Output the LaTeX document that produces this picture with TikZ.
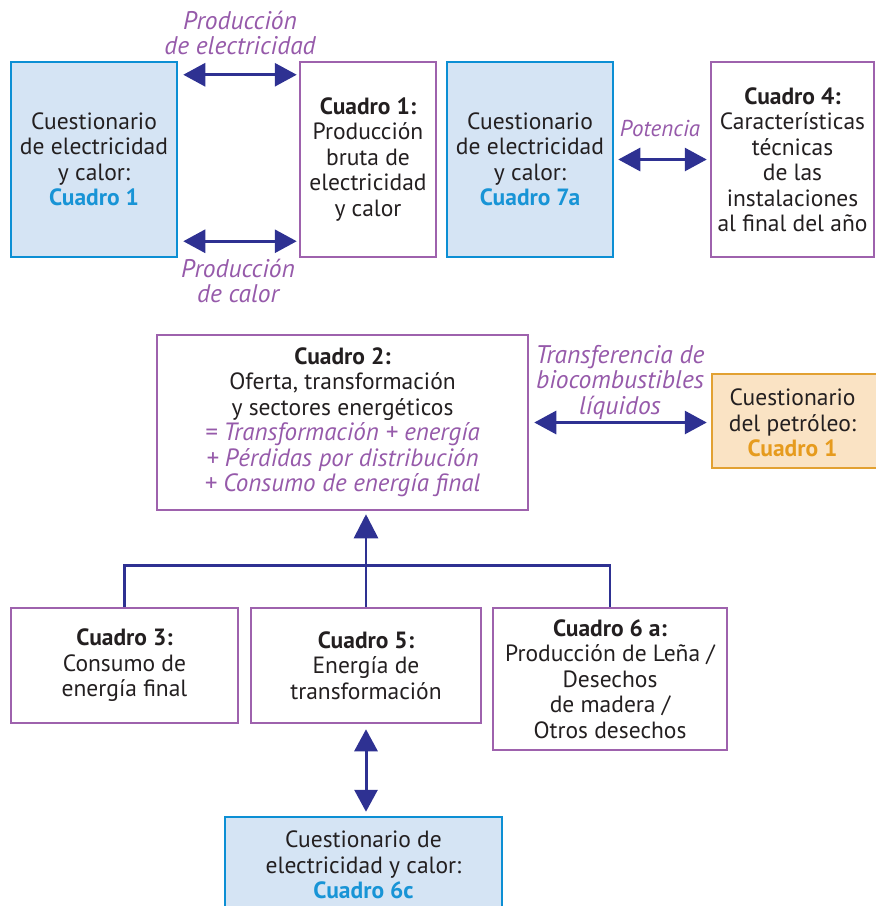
\documentclass[tikz,border=0pt]{standalone}
\usepackage{fontspec}
\setmainfont{PT Sans}
\usetikzlibrary{arrows.meta,calc}
\definecolor{navy}{RGB}{46,49,146}
\definecolor{purp}{RGB}{158,98,173}
\definecolor{purptxt}{RGB}{150,90,170}
\definecolor{bluebd}{RGB}{12,143,212}
\definecolor{bluefill}{RGB}{213,228,244}
\definecolor{bluetxt}{RGB}{24,148,214}
\definecolor{orbd}{RGB}{226,161,50}
\definecolor{orfill}{RGB}{250,227,196}
\definecolor{ortxt}{RGB}{230,155,30}
\definecolor{ink}{RGB}{35,31,32}
\newcommand{\itl}{\fontsize{25}{25.5}\selectfont\itshape}
\tikzset{
  basebox/.style={rectangle, line width=2.5pt, inner sep=0pt, align=center, text=ink,
    font=\fontsize{23.5}{25.5}\selectfont},
  purpbox/.style={basebox, draw=purp, fill=white},
  bluebox/.style={basebox, draw=bluebd, fill=bluefill},
  orbox/.style={basebox, draw=orbd, fill=orfill},
  lbl/.style={text=purptxt, align=center, font=\fontsize{25.5}{25.5}\selectfont\itshape},
  dbl/.style={navy, line width=3pt, {Triangle[length=22pt,width=23pt]}-{Triangle[length=22pt,width=23pt]}},
  single/.style={navy, line width=2.8pt, -{Triangle[length=24pt,width=24pt]}},
  tree/.style={navy, line width=2.8pt}
}
\begin{document}
\begin{tikzpicture}[x=1pt,y=-1pt]
\useasboundingbox (0,0) rectangle (876,906);
% top row
\node[bluebox, minimum width=166pt, minimum height=195pt] (A) at (94,159.5)
  {Cuestionario\\de electricidad\\y calor:\\\textcolor{bluetxt}{\textbf{Cuadro 1}}};
\node[purpbox, minimum width=136pt, minimum height=195pt] (B) at (368,159.5)
  {\textbf{Cuadro 1:}\\Producción\\bruta de\\electricidad\\y calor};
\node[bluebox, minimum width=166pt, minimum height=195pt] (C) at (530,159.5)
  {Cuestionario\\de electricidad\\y calor:\\\textcolor{bluetxt}{\textbf{Cuadro 7a}}};
\node[purpbox, minimum width=163pt, minimum height=195pt] (D) at (792.5,159.5)
  {\textbf{Cuadro 4:}\\Características\\técnicas\\de las\\instalaciones\\al final del año};
% middle row
\node[purpbox, minimum width=371pt, minimum height=175pt] (Q2) at (342.5,422.5)
  {\textbf{Cuadro 2:}\\Oferta, transformación\\y sectores energéticos\\
   \textcolor{purptxt}{\itl = Transformación + energía}\\
   \textcolor{purptxt}{\itl + Pérdidas por distribución}\\
   \textcolor{purptxt}{\itl + Consumo de energía final}};
\node[orbox, minimum width=180pt, minimum height=94pt] (Pet) at (802,421)
  {};
\node[basebox, text=ink] (PetT) at (792.5,423)
  {Cuestionario\\del petróleo:\\\textcolor{ortxt}{\textbf{Cuadro 1}}};
% bottom row
\node[purpbox, minimum width=227pt, minimum height=115pt] (Q3) at (124.5,665.5)
  {\textbf{Cuadro 3:}\\Consumo de\\energía final};
\node[purpbox, minimum width=230pt, minimum height=115pt] (Q5) at (366,665.5)
  {\textbf{Cuadro 5:}\\Energía de\\transformación};
\node[purpbox, minimum width=234pt, minimum height=142pt] (Q6) at (610,679)
  {\textbf{Cuadro 6 a:}\\Producción de Leña /\\Desechos\\de madera /\\Otros desechos};
\node[bluebox, minimum width=277pt, minimum height=96pt] (C6) at (363.5,865)
  {Cuestionario de\\electricidad y calor:\\\textcolor{bluetxt}{\textbf{Cuadro 6c}}};
% labels
\node[lbl] (L1) at (240,33) {Producción\\de electricidad};
\node[lbl] (L2) at (238,281) {Producción\\de calor};
\node[lbl, font=\fontsize{23}{25.5}\selectfont\itshape] (L3) at (660,128) {Potencia};
\node[lbl] (L4) at (620,382) {Transferencia de\\biocombustibles\\líquidos};
% arrows
\draw[dbl] ($(A.north east)+(5,14)$) -- ($(B.north west)+(-2,14)$);
\draw[dbl] ($(A.south east)+(5,-17)$) -- ($(B.south west)+(-2,-17)$);
\draw[dbl, shorten <=4pt, shorten >=3pt] (C.east) -- (D.west);
\draw[dbl] ($(Q2.east)+(5,0)$) -- ($(Q2.east -| Pet.west)+(-4,0)$);
\draw[dbl, shorten <=5pt, shorten >=4pt] (Q5.south) -- (Q5.south |- C6.north);
\draw[tree] (Q3.north) -- ++(0,-41) -| (Q6.north);
\draw[single, shorten >=3pt] (Q5.north) -- (Q5.north |- Q2.south);
\end{tikzpicture}
\end{document}
